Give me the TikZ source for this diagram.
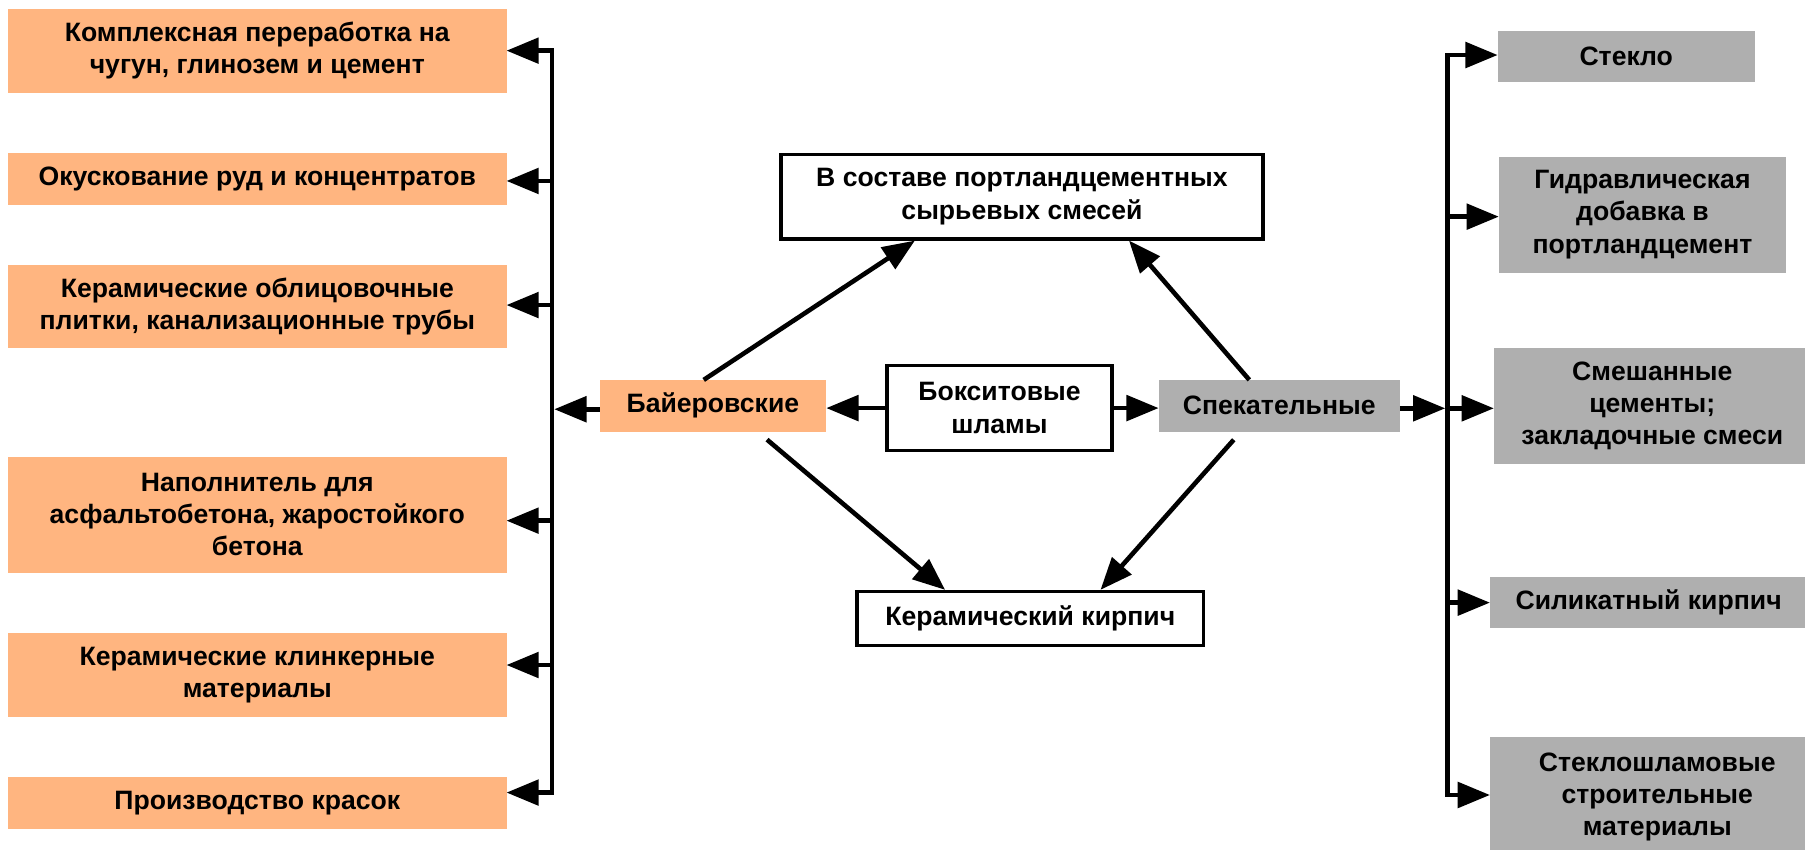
\documentclass[tikz,border=0pt]{standalone}
\usepackage{fontspec}
\setmainfont{Liberation Sans}
\usetikzlibrary{arrows.meta,calc}
\definecolor{peach}{RGB}{255,181,128}
\definecolor{slate}{RGB}{175,175,175}
\begin{document}
\begin{tikzpicture}[x=1pt,y=-1pt,
  lbl/.style={font=\fontsize{23.1}{28}\selectfont\bfseries,align=center,inner sep=0pt,outer sep=0pt},
  pbox/.style={lbl,fill=peach},
  gbox/.style={lbl,fill=slate},
  wbox/.style={lbl,fill=white,draw=black,line width=3pt,outer sep=1.5pt},
  arr/.style={line width=4pt,-{Triangle[length=28pt,width=22pt]}},
  bus/.style={line width=4pt,line cap=rect}]
\useasboundingbox (0,0) rectangle (1568,738);

% left column: uses of the Bayer residue
\node[pbox,minimum width=433pt,minimum height=72.7pt] (L1) at (223.5,44.15) {Комплексная переработка на\\чугун, глинозем и цемент};
\node[pbox,minimum width=433pt,minimum height=44.9pt] (L2) at (223.5,155.35) {Окускование руд и концентратов};
\node[pbox,minimum width=433pt,minimum height=72.4pt] (L3) at (223.5,266.4) {Керамические облицовочные\\плитки, канализационные трубы};
\node[pbox,minimum width=433pt,minimum height=100.8pt] (L4) at (223.5,447.1) {Наполнитель для\\асфальтобетона, жаростойкого\\бетона};
\node[pbox,minimum width=433pt,minimum height=72.5pt] (L5) at (223.5,586.25) {Керамические клинкерные\\материалы};
\node[pbox,minimum width=433pt,minimum height=45.5pt] (L6) at (223.5,697.35) {Производство красок};

% centre
\node[pbox,minimum width=197pt,minimum height=44.9pt] (bay) at (619.3,352.45) {Байеровские};
\node[wbox,minimum width=195.5pt,minimum height=74pt] (boks) at (868.25,354.5) {Бокситовые\\шламы};
\node[gbox,minimum width=209.5pt,minimum height=45pt] (spek) at (1111.25,352.5) {Спекательные};
\node[wbox,minimum width=418.5pt,minimum height=73.4pt] (port) at (887.75,170.8) {В составе портландцементных\\сырьевых смесей};
\node[wbox,minimum width=301pt,minimum height=46.8pt] (brick) at (895,537.3) {Керамический кирпич};

% right column: uses of the sinter residue
\node[gbox,minimum width=223.4pt,minimum height=44.6pt] (R1) at (1412.7,49.2) {Стекло};
\node[gbox,minimum width=249.5pt,minimum height=100.8pt] (R2) at (1426.75,186.4) {Гидравлическая\\добавка в\\портландцемент};
\node[gbox,minimum width=275.3pt,minimum height=100.5pt] (R3) at (1435.35,352.75) {Смешанные\\цементы;\\закладочные смеси};
\node[gbox,minimum width=275.7pt,minimum height=44.8pt] (R4) at (1432.15,523.4) {Силикатный кирпич};
\node[gbox,minimum width=290.7pt,minimum height=105pt] (R5) at (1439.65,692.5) {Стеклошламовые\\строительные\\материалы};

% bus points
\coordinate (lb1) at (479.5,44);
\coordinate (lb2) at (479.5,157.2);
\coordinate (lb3) at (479.5,265);
\coordinate (lb4) at (479.5,452.3);
\coordinate (lb5) at (479.5,577.7);
\coordinate (lb6) at (479.5,688.5);
\coordinate (lbb) at (479.5,355.5);
\coordinate (rb1) at (1257.5,47.8);
\coordinate (rb2) at (1257.5,188.2);
\coordinate (rb3) at (1257.5,354.7);
\coordinate (rb4) at (1257.5,523.5);
\coordinate (rb5) at (1257.5,690.6);

% buses
\draw[bus] (lb1) -- (lb6);
\draw[bus] (rb1) -- (rb5);

% left branches
\foreach \i in {1,...,6} \draw[arr] (lb\i) -- (lb\i -| L\i.east);
\draw[arr] (bay.west |- lbb) -- ([xshift=2pt]lbb);

% right branches
\foreach \i in {1,...,5} \draw[arr] (rb\i) -- (rb\i -| R\i.west);
\draw[arr] (spek.east |- rb3) -- ([xshift=-2pt]rb3);

% from the residue to its two kinds
\draw[arr] (boks.west) -- (boks.west -| bay.east);
\draw[arr] (boks.east) -- (boks.east -| spek.west);

% diagonal links
\draw[arr] ($(bay.north)+(-8,0)$) -- ($(port.south)+(-93,0)$);
\draw[arr] ($(spek.north)+(-26,0)$) -- ($(port.south)+(93,0)$);
\draw[arr] ($(bay.south)+(47,7)$) -- ($(brick.north)+(-74,0)$);
\draw[arr] ($(spek.south)+(-39.5,7)$) -- ($(brick.north)+(61,0)$);
\end{tikzpicture}
\end{document}
